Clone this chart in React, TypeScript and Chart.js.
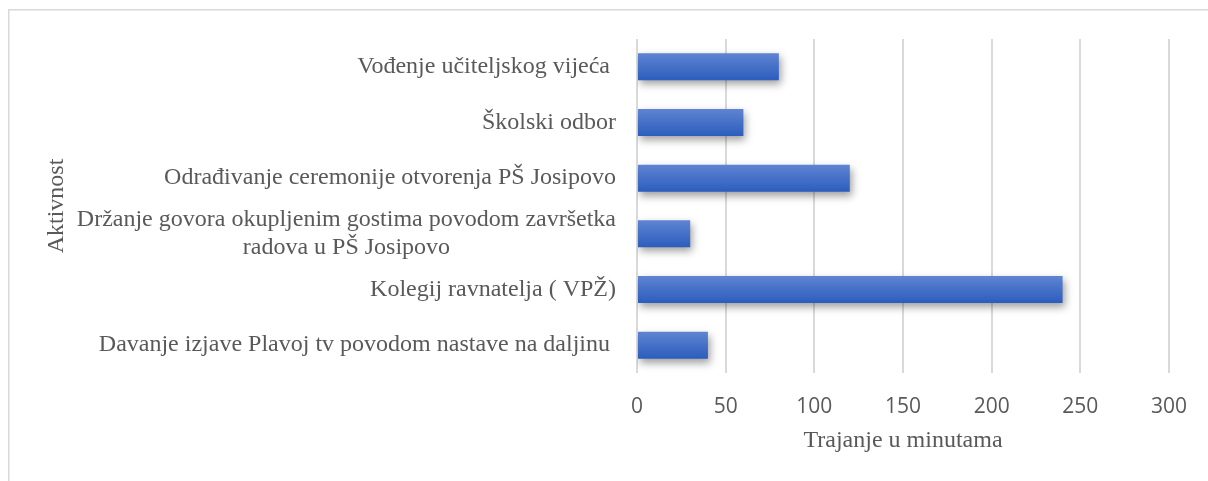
import React, { useEffect, useRef } from "react";
import { Chart, registerables } from "chart.js";

Chart.register(...registerables);

const categories: (string | string[])[] = [
  "Vođenje učiteljskog vijeća ",
  "Školski odbor",
  "Odrađivanje ceremonije otvorenja PŠ Josipovo",
  ["Držanje govora okupljenim gostima povodom završetka", "radova u PŠ Josipovo"],
  "Kolegij ravnatelja ( VPŽ)",
  "Davanje izjave Plavoj tv povodom nastave na daljinu ",
];
const durations: number[] = [80, 60, 120, 30, 240, 40];
const xMin = 0;
const xMax = 300;
const xStep = 50;
const xTitle = "Trajanje u minutama";
const yTitle = "Aktivnost";

const TEXT = "#595959";
const SERIF = '"Liberation Serif", "Times New Roman", serif';
const BAR_PCT = 0.485;

export default function App() {
  const ref = useRef<HTMLCanvasElement | null>(null);

  useEffect(() => {
    if (!ref.current) return;

    const framePlugin = {
      id: "frame",
      beforeDraw(chart: any) {
        const ctx = chart.ctx;
        ctx.save();
        ctx.fillStyle = "#d9d9d9";
        ctx.fillRect(8, 9, 1200, 1.5);
        ctx.fillRect(8, 9, 1.5, 472);
        ctx.restore();
      },
    };

    const shadowPlugin = {
      id: "barShadow",
      beforeDatasetsDraw(chart: any) {
        const ctx = chart.ctx;
        ctx.save();
        ctx.shadowColor = "rgba(0,0,0,0.38)";
        ctx.shadowBlur = 8;
        ctx.shadowOffsetX = 2;
        ctx.shadowOffsetY = 4;
      },
      afterDatasetsDraw(chart: any) {
        chart.ctx.restore();
      },
    };

    const yLabelPlugin = {
      id: "yLabels",
      afterDraw(chart: any) {
        const ctx = chart.ctx;
        const ys = chart.scales.y;
        const right = ys.right - 21;
        const fontSize = 24;
        const lineH = fontSize * 1.15;
        ctx.save();
        ctx.font = `${fontSize}px ${SERIF}`;
        ctx.fillStyle = TEXT;
        ctx.textAlign = "center";
        ctx.textBaseline = "middle";
        categories.forEach((lab, i) => {
          const lines = Array.isArray(lab) ? lab : [lab];
          const w = Math.max(...lines.map((l) => ctx.measureText(l).width));
          const cx = right - w / 2;
          const cy = ys.getPixelForValue(i);
          lines.forEach((l, j) => {
            ctx.fillText(l, cx, cy + (j - (lines.length - 1) / 2) * lineH);
          });
        });
        ctx.restore();
      },
    };

    const chart = new Chart(ref.current, {
      type: "bar",
      data: {
        labels: categories,
        datasets: [
          {
            data: durations,
            backgroundColor: (c: any) => {
              const ch = c.chart;
              const ys = ch.scales && ch.scales.y;
              if (!ys || !ch.chartArea) return "#4472c4";
              const center = ys.getPixelForValue(c.dataIndex);
              const half = ((ys.bottom - ys.top) / categories.length) * BAR_PCT / 2;
              const g = ch.ctx.createLinearGradient(0, center - half, 0, center + half);
              g.addColorStop(0, "#5f84d2");
              g.addColorStop(1, "#2c5dbd");
              return g;
            },
            borderWidth: 0,
            barPercentage: BAR_PCT,
            categoryPercentage: 1,
          },
        ],
      },
      options: {
        indexAxis: "y",
        responsive: false,
        animation: false,
        layout: { padding: { top: 39, right: 37, left: 0, bottom: 0 } },
        plugins: {
          legend: { display: false },
          tooltip: { enabled: false },
        },
        scales: {
          x: {
            min: xMin,
            max: xMax,
            ticks: {
              stepSize: xStep,
              color: TEXT,
              padding: 21,
              font: { family: '"Open Sans", sans-serif', size: 21 },
            },
            grid: { color: "#d9d9d9", lineWidth: 2, drawTicks: false },
            border: { display: false },
            title: {
              display: true,
              text: xTitle,
              color: TEXT,
              font: { family: SERIF, size: 24 },
              padding: { top: 0, bottom: 25.6 },
            },
            afterFit(scale: any) {
              scale.height = 108;
            },
          },
          y: {
            ticks: { display: false },
            grid: { display: false },
            border: { display: false },
            title: {
              display: true,
              text: yTitle,
              color: TEXT,
              font: { family: SERIF, size: 24 },
              padding: { top: 42.6, bottom: 0 },
            },
            afterFit(scale: any) {
              scale.width = 637;
            },
          },
        },
      },
      plugins: [framePlugin, shadowPlugin, yLabelPlugin],
    } as any);

    return () => chart.destroy();
  }, []);

  return (
    <div style={{ position: "absolute", left: 0, top: 0, width: 1208, height: 481, background: "#fff" }}>
      <canvas ref={ref} width={1208} height={481} style={{ display: "block" }} />
    </div>
  );
}
